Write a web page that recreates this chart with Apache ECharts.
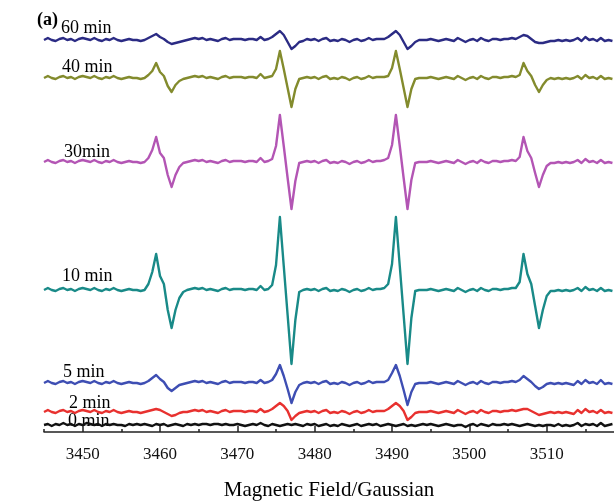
<!DOCTYPE html>
<html>
<head>
<meta charset="utf-8">
<script src="https://cdn.jsdelivr.net/npm/echarts@6/dist/echarts.min.js"></script>
<style>
  html, body { margin: 0; padding: 0; background: #fff; }
  #chart { width: 614px; height: 502px; }
</style>
</head>
<body>
<div id="chart"></div>
<script>
// Magnetic field sweep (G), shared by every spectrum
const field = [
  3445,3445.5,3446,3446.5,3447,3447.5,3448,3448.5,3449,3449.5,
  3450,3450.5,3451,3451.5,3452,3452.5,3453,3453.5,3454,3454.5,
  3455,3455.5,3456,3456.5,3457,3457.5,3458,3458.5,3459,3459.5,
  3460,3460.5,3461,3461.5,3462,3462.5,3463,3463.5,3464,3464.5,
  3465,3465.5,3466,3466.5,3467,3467.5,3468,3468.5,3469,3469.5,
  3470,3470.5,3471,3471.5,3472,3472.5,3473,3473.5,3474,3474.5,
  3475,3475.5,3476,3476.5,3477,3477.5,3478,3478.5,3479,3479.5,
  3480,3480.5,3481,3481.5,3482,3482.5,3483,3483.5,3484,3484.5,
  3485,3485.5,3486,3486.5,3487,3487.5,3488,3488.5,3489,3489.5,
  3490,3490.5,3491,3491.5,3492,3492.5,3493,3493.5,3494,3494.5,
  3495,3495.5,3496,3496.5,3497,3497.5,3498,3498.5,3499,3499.5,
  3500,3500.5,3501,3501.5,3502,3502.5,3503,3503.5,3504,3504.5,
  3505,3505.5,3506,3506.5,3507,3507.5,3508,3508.5,3509,3509.5,
  3510,3510.5,3511,3511.5,3512,3512.5,3513,3513.5,3514,3514.5,
  3515,3515.5,3516,3516.5,3517,3517.5,3518,3518.5
];

// Spectrum traces (arbitrary intensity units, relative to each trace's own baseline)
const min60 = [
  0,2,0,-1,1,2,0,1,-1,1,
  2,1,0,2,0,-1,1,0,2,0,
  -1,0,1,0,0,-1,0,2,4,6,
  3,1,-2,-4,-3,-2,-1,0,1,2,
  1,2,0,1,0,-1,1,2,0,1,
  1,1,0,1,1,0,3,0,1,3,
  6,9,5,-2,-9,-6,-2,-1,1,0,
  1,-1,1,2,-1,0,-1,1,0,-2,
  0,1,-1,0,2,0,1,1,1,3,
  6,9,5,-2,-9,-6,-2,0,0,0,
  1,0,-1,0,1,0,-1,2,0,-2,
  0,1,-1,2,0,-1,1,1,0,1,
  1,2,1,3,5,4,1,-2,-3,-3,
  -2,-1,-1,0,-1,0,-1,0,2,-1,
  3,0,1,-1,2,-1,0,-1
];
const min40 = [
  0,2,0,-1,1,2,0,1,-1,1,
  2,1,0,2,0,-1,1,0,2,0,
  -1,0,1,0,0,-1,0,3,7,15,
  6,2,-8,-14,-7,-3,-1,0,1,2,
  1,2,0,1,0,-1,1,2,0,1,
  1,1,0,1,1,0,4,0,1,2,
  9,27,9,-10,-29,-11,-1,0,1,0,
  1,-1,1,2,-1,0,-1,1,0,-2,
  0,1,-1,0,2,0,1,1,1,2,
  10,27,9,-10,-29,-11,-1,0,0,0,
  1,0,-1,0,1,0,-1,2,0,-2,
  0,1,-1,2,0,-1,1,1,0,1,
  1,2,1,3,15,7,2,-7,-14,-7,
  -2,0,-1,0,-1,0,-1,0,2,-1,
  3,0,1,-1,2,-1,0,-1
];
const min30 = [
  0,2,0,-1,1,2,0,1,-1,1,
  2,1,0,2,0,-1,1,0,2,0,
  -1,0,1,0,0,-1,0,4,12,25,
  9,4,-13,-25,-13,-5,-1,0,1,2,
  1,2,0,1,0,-1,1,2,0,1,
  1,1,0,1,1,0,4,0,1,3,
  16,47,16,-16,-47,-19,-1,0,1,0,
  1,-1,1,2,-1,0,-1,1,0,-2,
  0,1,-1,0,2,0,1,1,2,4,
  17,47,16,-16,-47,-18,-1,0,0,0,
  1,0,-1,0,1,0,-1,2,0,-2,
  0,1,-1,2,0,-1,1,1,0,1,
  1,2,1,5,25,11,4,-11,-25,-13,
  -4,-1,-1,0,-1,0,-1,0,2,-1,
  3,0,1,-1,2,-1,0,-1
];
const min10 = [
  0,2,0,-1,1,2,0,1,-1,1,
  2,1,0,2,0,-1,1,0,2,0,
  -1,0,1,0,0,-1,0,6,18,36,
  14,6,-20,-38,-20,-8,-2,0,1,2,
  1,2,0,1,0,-1,1,2,0,1,
  1,1,0,1,1,0,4,0,1,5,
  25,73,24,-25,-74,-30,-2,0,1,0,
  1,-1,1,2,-1,0,-1,1,0,-2,
  0,1,-1,0,2,0,1,1,2,6,
  26,73,24,-25,-74,-28,-1,0,0,0,
  1,0,-1,0,1,0,-1,2,0,-2,
  0,1,-1,2,0,-1,1,1,0,1,
  1,2,2,8,36,16,6,-16,-38,-20,
  -6,-1,-1,0,-1,0,-1,0,2,-1,
  3,0,1,-1,2,-1,0,-1
];
const min5 = [
  0,2,0,-1,1,2,0,1,-1,1,
  2,1,0,2,0,-1,1,0,2,0,
  -1,0,1,0,0,-1,0,2,5,8,
  4,1,-5,-8,-5,-2,-1,0,1,2,
  1,2,0,1,0,-1,1,2,0,1,
  1,1,0,1,1,0,3,0,1,3,
  9,18,7,-6,-20,-9,-2,0,1,0,
  1,-1,1,2,-1,0,-1,1,0,-2,
  0,1,-1,0,2,0,1,1,1,3,
  10,18,7,-7,-22,-9,-1,0,0,0,
  1,0,-1,0,1,0,-1,2,0,-2,
  0,1,-1,2,0,-1,1,1,0,1,
  1,2,1,3,7,4,1,-3,-6,-4,
  -1,0,-1,0,-1,0,-1,-2,2,-1,
  3,0,1,-1,3,-1,0,-1
];
const min2 = [
  0,2,0,-1,1,2,0,1,-1,1,
  2,1,0,2,0,-1,1,0,2,0,
  -1,0,1,0,0,-1,0,1,2,3,
  2,0,-2,-4,-3,-1,0,0,1,2,
  1,2,0,1,0,-1,1,2,0,1,
  1,1,0,1,1,0,3,0,1,3,
  6,9,6,1,-8,-4,-1,0,1,0,
  1,-1,1,2,-1,0,-1,1,0,-2,
  0,1,-1,0,2,0,1,1,1,3,
  6,9,6,1,-8,-5,-1,0,0,0,
  1,0,-1,0,1,0,-1,2,0,-2,
  0,1,-1,2,0,-1,1,1,0,1,
  1,2,1,2,3,3,1,-1,-3,-2,
  -1,0,-1,0,-1,0,-1,-2,2,-1,
  3,0,1,-1,2,-1,0,-1
];
const min0 = [
  0,1,-1,1,0,2,0,1,-1,1,
  0,2,1,0,1,-1,1,0,1,0,
  0,-1,1,0,1,0,1,0,-1,1,
  0,1,-1,0,1,0,-1,1,0,1,
  0,1,1,0,1,1,0,1,0,0,
  1,0,-1,0,1,0,2,0,-1,1,
  0,-1,0,1,0,1,0,-1,1,0,
  1,-1,0,1,-1,0,-1,1,0,-1,
  0,1,-1,0,1,0,1,-1,0,1,
  0,-1,0,1,-1,0,-1,0,1,0,
  1,0,-1,0,1,0,-1,0,0,-2,
  0,1,-1,1,0,-1,1,0,0,1,
  0,1,0,-1,0,1,0,-1,0,-1,
  0,0,-1,1,-1,0,-1,0,2,-1,
  1,0,1,-1,2,-1,0,1
];

// Trace names, the vertical offset each trace is stacked at, and tick values
const traceNames = ['60 min', '40 min', '30min', '10 min', '5 min', '2 min', '0 min'];
const traceValues = [min60, min40, min30, min10, min5, min2, min0];
const traceOffsets = [392, 354, 270, 142, 49, 20, 7];
const majorTicks = [3450, 3460, 3470, 3480, 3490, 3500, 3510];
const minorTicks = [3445, 3455, 3465, 3475, 3485, 3495, 3505, 3515];

// Styling
const traceColors = ['#2b2b84', '#838b2d', '#b355b4', '#198a88', '#3e4eb3', '#e8312f', '#111111'];
const labelStyle = [
  { x: 61, lift: 12 }, { x: 62, lift: 11 }, { x: 64, lift: 10 },
  { x: 62, lift: 14 }, { x: 63, lift: 11 }, { x: 69, lift: 9 }, { x: 68, lift: 4 }
];
const SERIF = "'Liberation Serif', 'Times New Roman', serif";

const chart = echarts.init(document.getElementById('chart'), null, { renderer: 'canvas' });

const series = traceValues.map((vals, k) => ({
  name: traceNames[k],
  type: 'line',
  xAxisIndex: 0,
  yAxisIndex: 0,
  showSymbol: false,
  symbol: 'none',
  silent: true,
  z: 3,
  lineStyle: { color: traceColors[k], width: 2.4, join: 'round' },
  data: field.map((f, i) => [f, traceOffsets[k] + vals[i]])
}));

const axisBase = {
  type: 'value',
  min: 3445,
  max: 3518.7,
  gridIndex: 0,
  position: 'bottom',
  splitLine: { show: false }
};

chart.setOption({
  animation: false,
  backgroundColor: '#fff',
  title: {
    text: '(a)',
    left: 32, top: 6,
    textStyle: { fontFamily: SERIF, fontSize: 18, fontWeight: 'bold', color: '#000' }
  },
  grid: { left: 44, right: 0, top: 0, bottom: 70, containLabel: false, outerBoundsMode: 'none' },
  xAxis: [
    Object.assign({}, axisBase, {
      name: 'Magnetic Field/Gaussian',
      nameLocation: 'middle',
      nameGap: 48,
      nameTextStyle: { fontFamily: SERIF, fontSize: 21, color: '#000' },
      axisLine: { show: true, onZero: false, lineStyle: { color: '#222', width: 1.5 } },
      axisTick: { show: true, inside: true, length: 6, customValues: majorTicks, lineStyle: { color: '#222', width: 1.5 } },
      axisLabel: {
        show: true, customValues: majorTicks, margin: 14,
        formatter: v => String(v),
        fontFamily: SERIF, fontSize: 17, color: '#111'
      }
    }),
    Object.assign({}, axisBase, {
      axisLine: { show: false },
      axisTick: { show: true, inside: true, length: 3, customValues: minorTicks, lineStyle: { color: '#222', width: 1.5 } },
      axisLabel: { show: false }
    })
  ],
  yAxis: { type: 'value', min: 0, max: 432, show: false },
  series: series
});

// Trace captions, anchored just above the left end of each baseline
const graphics = traceNames.map((name, k) => {
  const p = chart.convertToPixel({ xAxisIndex: 0, yAxisIndex: 0 }, [3445, traceOffsets[k]]);
  return {
    type: 'text',
    z: 1,
    x: labelStyle[k].x,
    y: p[1] - labelStyle[k].lift,
    style: {
      text: name,
      fontFamily: SERIF,
      fontSize: 18,
      fill: '#000',
      verticalAlign: 'middle',
      align: 'left'
    }
  };
});
chart.setOption({ graphic: graphics });
</script>
</body>
</html>
